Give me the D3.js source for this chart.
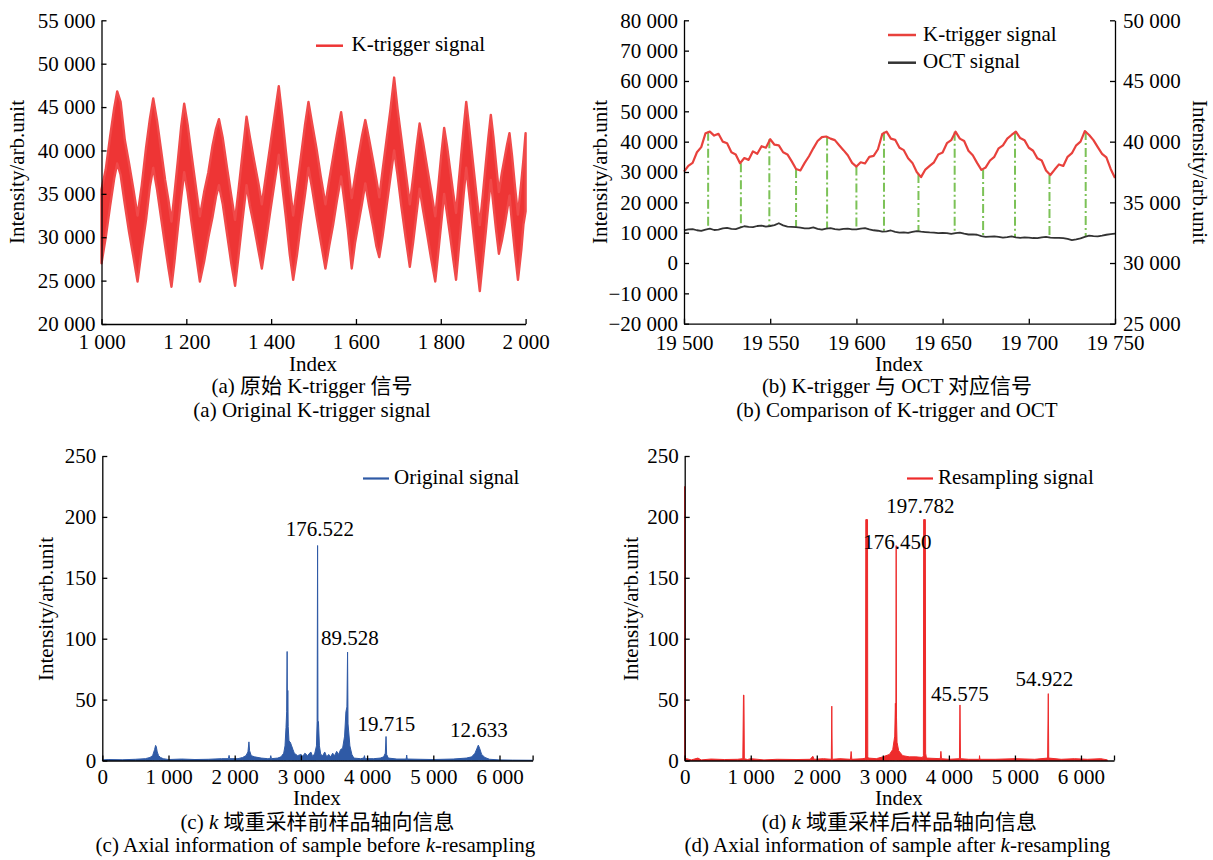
<!DOCTYPE html>
<html><head><meta charset="utf-8">
<script src="https://cdn.jsdelivr.net/npm/d3@7"></script>
<style>html,body{margin:0;padding:0;background:#fff;} svg{display:block}</style>
</head><body>
<script>
// ---------------- DATA ----------------
// (a) K-trigger signal, band of the noisy trace (values in thousands)
const aXTicks = [1000,1200,1400,1600,1800,2000];
const aYTicks = [20,25,30,35,40,45,50,55];
const kIdx = [1000,1010,1020,1030,1037,1045,1055,1065,1075,1085,1095,1105,1114,1122,1131,1140,1150,1158,1165,1172,1180,1188,1195,1203,1212,1222,1232,1242,1252,1262,1270,1277,1286,1296,1306,1315,1323,1332,1342,1350,1360,1370,1378,1388,1398,1408,1418,1426,1435,1444,1452,1461,1470,1480,1488,1497,1507,1517,1528,1537,1546,1555,1565,1573,1581,1590,1598,1606,1614,1622,1631,1640,1648,1655,1663,1672,1681,1690,1698,1707,1717,1727,1735,1743,1750,1758,1768,1777,1787,1794,1801,1808,1815,1822,1829,1836,1842,1848,1854,1860,1867,1875,1883,1892,1899,1906,1912,1918,1924,1930,1937,1944,1950,1956,1962,1968,1975,1982,1990,1995,2000];
const kLo = [27.0,30.0,33.5,36.8,38.5,37.2,33.8,30.6,27.8,24.9,28.6,32.0,35.8,38.0,35.5,32.4,29.0,26.4,24.3,27.2,31.0,34.6,37.5,35.2,31.8,28.3,24.9,27.2,30.0,32.4,34.7,36.0,33.8,30.4,27.0,24.4,27.8,31.8,36.0,33.6,31.2,28.5,26.4,29.6,33.0,36.3,39.5,36.0,32.2,28.0,25.1,28.0,31.5,35.0,38.0,35.5,32.4,29.5,26.4,29.0,31.4,34.2,37.0,34.0,30.8,26.4,29.4,31.6,33.8,36.2,33.6,31.3,29.0,27.7,30.2,33.5,36.8,40.0,37.2,33.6,30.0,26.6,29.5,32.8,35.6,33.2,30.3,27.6,24.9,28.2,31.6,35.0,32.6,30.2,27.6,25.1,28.4,31.6,35.0,38.0,35.0,31.3,27.7,23.8,27.2,30.6,33.7,36.6,33.8,31.0,28.1,29.6,31.2,33.0,34.8,31.6,28.2,25.1,28.6,31.5,33.0];
const kHi = [35.5,37.8,41.5,44.9,46.8,45.6,41.2,38.5,35.6,32.5,36.0,40.3,43.6,46.0,43.4,40.2,36.6,34.2,31.8,35.0,38.8,42.8,45.4,43.0,39.6,36.0,32.4,35.2,37.5,40.6,42.5,43.6,41.4,38.0,34.8,32.0,35.4,39.4,43.9,41.5,38.8,36.2,33.8,37.2,40.6,44.0,47.4,44.0,39.8,35.8,32.5,35.8,39.2,43.0,45.6,43.0,40.2,37.0,33.8,36.6,39.2,41.8,44.4,41.6,38.4,34.5,37.0,39.4,41.6,43.5,41.3,38.9,36.7,34.6,37.8,41.2,44.6,48.4,44.8,41.4,37.6,33.8,37.0,40.4,43.1,41.0,38.0,35.4,32.4,35.8,39.4,42.6,40.4,37.8,35.2,32.8,36.2,39.4,42.6,45.6,42.6,39.0,35.4,31.4,34.8,38.4,41.4,44.1,41.6,38.6,35.2,37.4,39.0,40.6,42.0,39.4,35.8,32.6,36.4,39.0,42.0];

// (b) K-trigger vs OCT (thousands); samples every 2.5 index from 19500
const bXTicks = [19500,19550,19600,19650,19700,19750];
const bYTicksL = [-20,-10,0,10,20,30,40,50,60,70,80];
const bYTicksR = [25,30,35,40,45,50];
const bStart = 19500, bStep = 2.5;
const bTrig = [30.1,32.0,33.0,36.5,38.2,42.8,43.3,42.0,42.6,40.0,39.5,36.5,35.8,32.9,34.6,34.0,36.8,36.0,38.5,38.0,40.8,39.0,38.8,36.5,35.8,33.5,31.0,30.5,33.0,35.2,37.8,40.2,41.5,41.7,41.0,40.5,38.8,37.2,35.5,33.0,31.8,33.2,32.8,35.0,35.3,37.5,42.5,43.3,41.0,40.6,38.0,37.2,34.5,33.0,30.0,28.3,30.8,32.0,33.2,35.8,36.4,39.5,40.5,43.3,41.0,40.2,37.0,35.5,33.0,30.7,31.5,33.8,35.0,37.8,38.8,41.0,42.2,43.3,41.2,40.5,38.0,37.0,34.5,33.8,30.5,29.0,30.8,32.5,32.0,35.0,36.2,38.8,40.0,43.5,42.2,40.5,38.2,36.0,34.8,31.0,28.0];
// OCT signal on the right axis (thousands)
const bOct = [32.70,32.78,32.80,32.70,32.65,32.76,32.83,32.72,32.75,32.85,32.90,32.82,32.80,32.92,33.03,32.98,32.95,33.05,33.08,33.00,33.05,33.12,33.28,33.10,33.00,32.98,32.95,32.92,32.85,32.86,32.93,32.82,32.75,32.84,32.88,32.80,32.75,32.82,32.83,32.77,32.78,32.84,32.88,32.78,32.70,32.66,32.58,32.60,32.68,32.57,32.50,32.52,32.48,32.56,32.63,32.58,32.55,32.52,32.50,32.46,32.48,32.46,32.40,32.47,32.50,32.42,32.35,32.36,32.33,32.22,32.15,32.18,32.20,32.16,32.10,32.14,32.20,32.12,32.08,32.11,32.10,32.06,32.05,32.12,32.15,32.09,32.08,32.08,32.05,31.98,31.88,31.95,32.03,32.16,32.25,32.22,32.20,32.26,32.33,32.38,32.43];
// green correspondence lines (left-axis thousands)
const gIdx = [19514,19533,19549.5,19565,19583,19600,19616,19636,19657,19673.5,19692,19712,19733];
const gTop = [43.3,32.9,40.8,31.0,41.7,31.8,43.3,29.3,43.3,30.7,43.3,29.0,43.5];
const gBot = [11.3,11.7,12.2,11.8,11.4,11.1,10.3,10.5,9.9,8.9,8.5,8.4,8.6];

// (c) original signal spectrum
const cdXTicks = [0,1000,2000,3000,4000,5000,6000];
const cdYTicks = [0,50,100,150,200,250];
const cIdx = [0,100,300,500,650,720,760,790,805,815,830,850,880,920,1000,1200,1400,1600,1800,1905,1915,1925,2050,2120,2170,2200,2215,2225,2250,2300,2400,2500,2535,2545,2555,2650,2700,2740,2760,2775,2785,2792,2797,2802,2808,2820,2840,2860,2880,2900,2950,3000,3030,3060,3100,3150,3180,3210,3235,3245,3252,3258,3265,3280,3300,3330,3360,3390,3420,3450,3480,3510,3540,3570,3600,3630,3660,3680,3695,3705,3712,3720,3740,3770,3800,3900,3950,3960,3970,4100,4200,4250,4275,4286,4295,4320,4450,4590,4598,4606,4800,5000,5300,5500,5580,5630,5660,5680,5700,5730,5780,5850,6000,6200,6500];
const cVal = [0.5,0.8,0.6,1.0,1.5,2.5,4,9,12.4,11.5,7,4,2.5,1.5,0.8,1.2,0.8,1,1.5,1.5,4.2,1.5,1.5,2.5,4,7,15.3,8,4,3,2,1.5,1.5,4,1.5,2,3,6,12,27,40,89.5,30,57.5,28,16,15,12,9,6,4,5,3.5,6,4,7,3,6,12,32,176.5,28,32,12,5,4,7,3,5,3,6,4,7.5,5,9,10,20,40,44,89,30,25,12,5,2,1.5,2,4,1.5,1.5,2,3,6,19.7,5,2,1.2,1.2,4.5,1.2,1,0.8,1.2,2,3,6,10,12.6,10,5,2.5,1,0.5,0.3,0.2];
const cLabTxt = ["176.522","89.528","19.715","12.633"];
const cLabIdx = [3285,3740,4290,5690];
const cLabVal = [184,95,24,19];

// (d) resampled signal spectrum
const dIdx = [0,8,30,100,200,250,400,600,800,880,890,897,903,950,1000,1200,1400,1700,1900,1940,1960,2100,2220,2227,2234,2350,2510,2520,2530,2700,2738,2742,2768,2772,2780,2900,3000,3100,3150,3180,3190,3197,3202,3207,3215,3240,3300,3400,3500,3600,3614,3618,3644,3648,3660,3870,3879,3888,4000,4160,4168,4176,4300,4460,4464,4470,4700,5000,5300,5495,5500,5505,5512,5700,5900,6100,6300,6400];
const dVal = [225,2,1.5,0.5,2,0.5,1.2,0.8,1,1.5,53.7,53.7,1.5,0.8,1.5,0.5,1,0.8,1,3.5,1,1.5,1,44.6,1,1.5,1,7.4,1,1.5,2,197.8,197.8,3,2,1.5,3,5,9,20,47,30,176.45,35,15,8,4,3,3,2.5,4,197.8,197.8,6,2,1.5,7.5,1.5,1,1.5,45.6,1.5,1,1,4,1,1,1.5,1,2,30,54.9,2,1,1.5,1,1.5,0.5];
const dLabTxt = ["197.782","176.450","45.575","54.922"];
const dLabIdx = [3570,3220,4165,5445];
const dLabVal = [203,174,48.5,61];

// ---------------- DRAWING ----------------
const W = 1213, H = 860;
const SERIF = "'Liberation Serif','Times New Roman','Noto Sans CJK SC',serif";
const FS = 21;
const svg = d3.select("body").append("svg").attr("width", W).attr("height", H)
  .style("font-family", SERIF);

const fmt = n => {
  const s = Math.abs(Math.round(n)).toString().replace(/\B(?=(\d{3})+(?!\d))/g, " ");
  return (n < 0 ? "\u2212" : "") + s;
};

function styleAxis(g) {
  g.attr("font-family", null).attr("font-size", null);
  g.selectAll("path.domain").attr("stroke", "#000").attr("stroke-width", 1.3);
  g.selectAll(".tick line").attr("stroke", "#000").attr("stroke-width", 1.3);
  g.selectAll(".tick text").attr("font-family", SERIF).attr("font-size", FS).attr("fill", "#000");
}
function text(x, y, t, anchor = "middle", rot = 0) {
  const el = svg.append("text").attr("font-size", FS).attr("fill", "#000")
    .attr("text-anchor", anchor);
  if (rot) el.attr("transform", `translate(${x},${y}) rotate(${rot})`).attr("dy", "0.35em");
  else el.attr("x", x).attr("y", y);
  el.text(t);
  return el;
}
function richText(x, y, parts) {
  const el = svg.append("text").attr("x", x).attr("y", y).attr("font-size", FS)
    .attr("text-anchor", "middle").attr("fill", "#000");
  parts.forEach(p => {
    const ts = el.append("tspan").text(p[0]);
    if (p[1]) ts.attr("font-style", "italic");
  });
  return el;
}
function legendLine(x1, x2, y, color, w) {
  svg.append("line").attr("x1", x1).attr("x2", x2).attr("y1", y).attr("y2", y)
    .attr("stroke", color).attr("stroke-width", w);
}

// ===== Panel (a) =====
{
  const x = d3.scaleLinear().domain([1000, 2000]).range([101.5, 525.6]);
  const y = d3.scaleLinear().domain([20, 55]).range([324, 20.3]);
  const pts = kIdx.map((d, i) => ({ i: d, lo: kLo[i], hi: kHi[i] }));
  const RED = "#ee3535";
  svg.append("path").datum(pts)
    .attr("d", d3.area().x(d => x(d.i)).y0(d => y(d.lo)).y1(d => y(d.hi)))
    .attr("fill", RED).attr("stroke", "#f04a4a").attr("stroke-width", 2.4)
    .attr("stroke-linejoin", "round");
  svg.append("g").attr("transform", `translate(0,${y(20)})`)
    .call(d3.axisBottom(x).tickValues(aXTicks).tickFormat(fmt).tickSize(-5).tickSizeOuter(0).tickPadding(10))
    .call(styleAxis);
  svg.append("g").attr("transform", `translate(${x(1000)},0)`)
    .call(d3.axisLeft(y).tickValues(aYTicks).tickFormat(d => fmt(d * 1000)).tickSize(-5).tickSizeOuter(0).tickPadding(6))
    .call(styleAxis);
  legendLine(316, 343, 45.7, RED, 2.5);
  text(351.5, 51, "K-trigger signal", "start");
  text(17, 172, "Intensity/arb.unit", "middle", -90);
  text(313, 370.5, "Index");
  text(312, 393, "(a) 原始 K-trigger 信号");
  text(312, 417, "(a) Original K-trigger signal");
}

// ===== Panel (b) =====
{
  const x = d3.scaleLinear().domain([19500, 19750]).range([684, 1115]);
  const yL = d3.scaleLinear().domain([-20, 80]).range([323.7, 20.3]);
  const yR = d3.scaleLinear().domain([25, 50]).range([323.7, 20.3]);
  const RED = "#e8413c", GREEN = "#7cc257", BLACK = "#333";
  const trig = bTrig.map((v, i) => [bStart + i * bStep, v]);
  const oct = bOct.map((v, i) => [bStart + i * bStep, v]);
  // green dash-dot links
  svg.append("g").selectAll("line").data(gIdx).join("line")
    .attr("x1", d => x(d)).attr("x2", d => x(d))
    .attr("y1", (d, i) => yL(gTop[i])).attr("y2", (d, i) => yL(gBot[i]))
    .attr("stroke", GREEN).attr("stroke-width", 2).attr("stroke-dasharray", "9,3,2,3");
  svg.append("path").datum(oct)
    .attr("d", d3.line().x(d => x(d[0])).y(d => yR(d[1])))
    .attr("fill", "none").attr("stroke", BLACK).attr("stroke-width", 1.8).attr("stroke-linejoin", "round");
  svg.append("path").datum(trig)
    .attr("d", d3.line().x(d => x(d[0])).y(d => yL(d[1])))
    .attr("fill", "none").attr("stroke", RED).attr("stroke-width", 2.2).attr("stroke-linejoin", "round");
  svg.append("g").attr("transform", `translate(0,${yL(-20)})`)
    .call(d3.axisBottom(x).tickValues(bXTicks).tickFormat(fmt).tickSize(-5).tickSizeOuter(0).tickPadding(11))
    .call(styleAxis);
  svg.append("g").attr("transform", `translate(${x(19500)},0)`)
    .call(d3.axisLeft(yL).tickValues(bYTicksL).tickFormat(d => fmt(d * 1000)).tickSize(-5).tickSizeOuter(0).tickPadding(6))
    .call(styleAxis);
  svg.append("g").attr("transform", `translate(${x(19750)},0)`)
    .call(d3.axisRight(yR).tickValues(bYTicksR).tickFormat(d => fmt(d * 1000)).tickSize(-5).tickSizeOuter(0).tickPadding(8))
    .call(styleAxis);
  legendLine(888, 916, 35, RED, 2.5);
  text(923, 40.5, "K-trigger signal", "start");
  legendLine(888, 916, 62.7, BLACK, 2.5);
  text(923, 68, "OCT signal", "start");
  text(600, 172, "Intensity/arb.unit", "middle", -90);
  text(1200, 172, "Intensity/arb.unit", "middle", 90);
  text(899, 370.5, "Index");
  text(897, 393, "(b) K-trigger 与 OCT 对应信号");
  text(897, 417, "(b) Comparison of K-trigger and OCT");
}

// ===== Panels (c) and (d) =====
function spectrum(x0, x1, idx, val, color, legendX, legendTxt, labTxt, labIdx, labVal, yLabelX, caption1, caption2) {
  const x = d3.scaleLinear().domain([0, 6500]).range([x0, x1]);
  const y = d3.scaleLinear().domain([0, 250]).range([760.5, 456]);
  const pts = idx.map((d, i) => [d, val[i]]);
  svg.append("path").datum(pts)
    .attr("d", d3.area().x(d => x(d[0])).y0(y(0)).y1(d => y(d[1])))
    .attr("fill", color).attr("stroke", color).attr("stroke-width", 1).attr("stroke-linejoin", "round");
  svg.append("g").attr("transform", `translate(0,${y(0)})`)
    .call(d3.axisBottom(x).tickValues(cdXTicks.concat([6500])).tickFormat(d => d > 6000 ? "" : fmt(d))
      .tickSize(-5).tickSizeOuter(0).tickPadding(9))
    .call(styleAxis);
  svg.append("g").attr("transform", `translate(${x(0)},0)`)
    .call(d3.axisLeft(y).tickValues(cdYTicks).tickFormat(fmt).tickSize(-5).tickSizeOuter(0).tickPadding(6))
    .call(styleAxis);
  labTxt.forEach((t, i) => text(x(labIdx[i]), y(labVal[i]), t));
  legendLine(legendX, legendX + 26, 478.5, color, 2.2);
  text(legendX + 31, 484, legendTxt, "start");
  text(yLabelX, 609, "Intensity/arb.unit", "middle", -90);
  const cx = (x0 + x1) / 2;
  text(cx - 0.5, 805, "Index");
  richText(cx, 829, caption1);
  richText(cx - 2, 852, caption2);
}
spectrum(102.3, 532.6, cIdx, cVal, "#2f5aa6", 363, "Original signal", cLabTxt, cLabIdx, cLabVal, 46,
  [["(c) "], ["k", true], [" 域重采样前样品轴向信息"]],
  [["(c) Axial information of sample before "], ["k", true], ["-resampling"]]);
spectrum(684.7, 1114, dIdx, dVal, "#ee2b2b", 907, "Resampling signal", dLabTxt, dLabIdx, dLabVal, 631,
  [["(d) "], ["k", true], [" 域重采样后样品轴向信息"]],
  [["(d) Axial information of sample after "], ["k", true], ["-resampling"]]);
</script>
</body></html>
